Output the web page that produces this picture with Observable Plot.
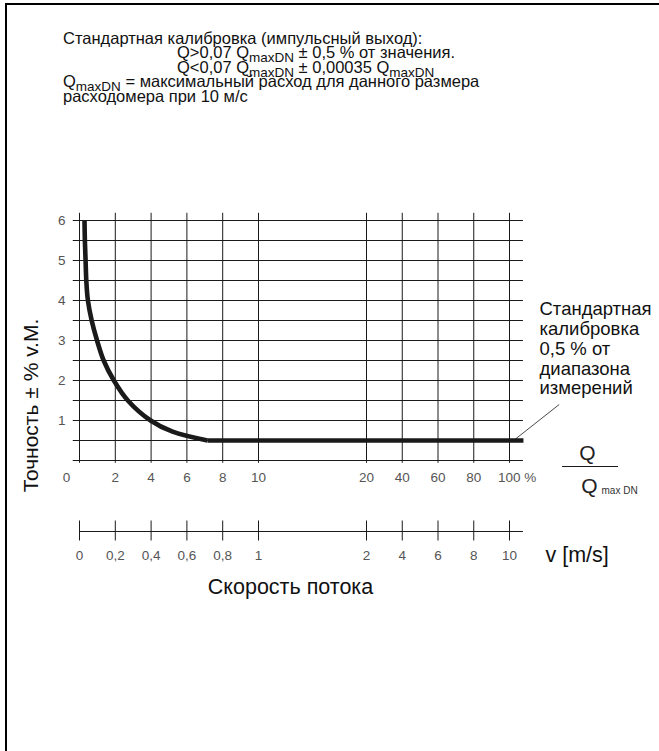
<!DOCTYPE html>
<html>
<head>
<meta charset="utf-8">
<script src="https://cdn.jsdelivr.net/npm/d3@7"></script>
<script src="https://cdn.jsdelivr.net/npm/@observablehq/plot@0.6"></script>
<style>
  body { margin: 0; background: #fff; }
  #wrap { position: relative; width: 659px; height: 751px; overflow: hidden;
          font-family: "Liberation Sans", Arial, sans-serif; color: #111; }
  #frame { position: absolute; left: 5px; top: 3px; right: -5px; bottom: -5px;
           border-top: 2px solid #000; border-left: 2px solid #000; }
  #chart { position: absolute; left: 0; top: 0; }
  #title { position: absolute; left: 63px; top: 32px; font-size: 16.5px; line-height: 13.8px;
           white-space: nowrap; }
  #title .ind { padding-left: 114px; }
  #title .sb { font-size: 13.5px; position: relative; top: 4px; }
</style>
</head>
<body>
<div id="wrap">
  <div id="frame"></div>
  <div id="chart"></div>
  <div id="title">
    <div>Стандартная калибровка (импульсный выход):</div>
    <div class="ind">Q&gt;0,07 Q<span class="sb">maxDN</span> ± 0,5 % от значения.</div>
    <div class="ind">Q&lt;0,07 Q<span class="sb">maxDN</span> ± 0,00035 Q<span class="sb">maxDN</span></div>
    <div>Q<span class="sb">maxDN</span> = максимальный расход для данного размера</div>
    <div>расходомера при 10 м/с</div>
  </div>
</div>
<script>
// ---- data ----
const qTicks  = [0, 2, 4, 6, 8, 10, 20, 40, 60, 80, 100];          // Q / Qmax DN, %
const qLabels = ["0", "2", "4", "6", "8", "10", "20", "40", "60", "80", "100 %"];
const vTicks  = [0, 0.2, 0.4, 0.6, 0.8, 1, 2, 4, 6, 8, 10];        // v, m/s
const vLabels = ["0", "0,2", "0,4", "0,6", "0,8", "1", "2", "4", "6", "8", "10"];
const yGrid   = [0, 0.5, 1, 1.5, 2, 2.5, 3, 3.5, 4, 4.5, 5, 5.5, 6];
const yTicks  = [1, 2, 3, 4, 5, 6];
const curveQ   = [0.28, 0.30, 0.34, 0.38, 0.47, 0.68, 0.98, 1.35, 1.92, 2.70, 3.97, 5.20, 7.15];
const curveAcc = [6, 5.5, 5, 4.5, 4, 3.5, 3, 2.5, 2, 1.5, 1, 0.72, 0.5];
const flatQ    = [7.15, 107.8];
const flatAcc  = [0.5, 0.5];
const noteText = "Стандартная\nкалибровка\n0,5 % от\nдиапазона\nизмерений";

// ---- tables ----
const curve = curveQ.map((q, i) => ({q, a: curveAcc[i]}));
const flat  = flatQ.map((q, i) => ({q, a: flatAcc[i]}));
const qAxis = qTicks.map((q, i) => ({q, label: qLabels[i]}));
const vAxis = vTicks.map((v, i) => ({q: v * 10, label: vLabels[i]})); // 10 m/s = 100 %

const ink = "#1a1a1a", tickInk = "#555";
const font = "Liberation Sans, Arial, sans-serif";
const pix = (x, y, text, o = {}) => Plot.text([text], {
  frameAnchor: "top-left", dx: x, dy: y, text: d => d,
  textAnchor: "middle", lineAnchor: "middle", ...o
});

const chart = Plot.plot({
  width: 659, height: 751,
  margin: 0,
  style: {fontFamily: font, background: "transparent", overflow: "visible"},
  x: {type: "linear", domain: [0, 10, 20, 100], range: [79, 258, 366, 509], axis: null},
  y: {type: "linear", domain: [0, 6], range: [460, 220], axis: null},
  marks: [
    // grid
    Plot.ruleY(yGrid, {x1: -0.35, x2: 107.8, stroke: ink, strokeWidth: 1}),
    Plot.ruleX(qTicks, {y1: -0.07, y2: 6.18, stroke: ink, strokeWidth: 1}),
    // accuracy curve
    Plot.line(curve, {x: "q", y: "a", curve: "catmull-rom", stroke: ink, strokeWidth: 4.6, strokeLinecap: "butt"}),
    Plot.line(flat, {x: "q", y: "a", stroke: ink, strokeWidth: 4.6, strokeLinecap: "butt"}),
    // callout
    Plot.link([0], {x1: 102, y1: 0.49, x2: 127.8, y2: 1.4, stroke: ink, strokeWidth: 0.8}),
    // y tick labels
    Plot.text(yTicks, {x: 0, y: d => d, dx: -14, textAnchor: "end", text: d => String(d), fontSize: 13.5, fill: tickInk}),
    // Q tick labels
    Plot.text(qAxis.filter(d => d.q > 0 && d.q < 100), {x: "q", y: 0, dy: 17, text: "label", fontSize: 13.5, fill: tickInk}),
    Plot.text(qAxis.filter(d => d.q === 0), {x: "q", y: 0, dy: 17, dx: -13, text: "label", fontSize: 13.5, fill: tickInk}),
    Plot.text(qAxis.filter(d => d.q === 100), {x: "q", y: 0, dy: 17, dx: -11.5, textAnchor: "start", text: "label", fontSize: 13.5, fill: tickInk}),
    // velocity axis
    Plot.ruleY([0], {x1: 0, x2: 107.8, dy: 71, stroke: ink, strokeWidth: 1}),
    Plot.ruleX(vAxis, {x: "q", y1: 0, y2: 0.5, dy: 80.5, stroke: ink, strokeWidth: 1}),
    Plot.text(vAxis, {x: "q", y: 0, dy: 95, text: "label", fontSize: 13.5, fill: tickInk}),
    // annotations
    pix(539, 348, noteText, {textAnchor: "start", lineHeight: 1.07, fontSize: 18.5, fill: "#111"}),
    pix(587, 453, "Q", {fontSize: 21, fill: "#222"}),
    Plot.ruleY([-0.15], {x1: 129.7, x2: 161, stroke: ink, strokeWidth: 1}),
    pix(589, 486, "Q", {fontSize: 21, fill: "#222"}),
    pix(601, 490, "max DN", {fontSize: 10, textAnchor: "start", fill: "#333"}),
    pix(545, 555, "v [m/s]", {fontSize: 21.5, textAnchor: "start", fill: "#111"}),
    pix(290, 587, "Скорость потока", {fontSize: 21.5, fill: "#111"}),
    pix(31, 405, "Точность ± % v.M.", {fontSize: 21, rotate: -90, fill: "#111"})
  ]
});
document.getElementById("chart").append(chart);
</script>
</body>
</html>
